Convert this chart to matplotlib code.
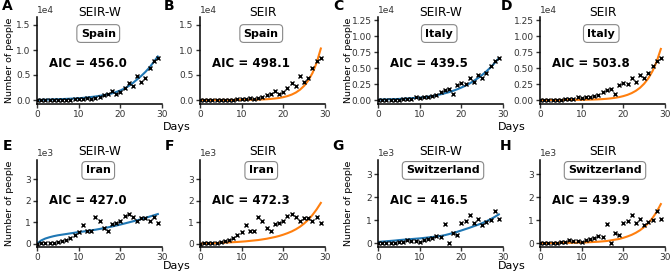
import numpy as np
import matplotlib
matplotlib.use('Agg')
import matplotlib.pyplot as plt

# daily data and model fits, day 0..29
days = list(range(30))

spain_obs = [0, 5, 10, 15, 20, 30, 40, 60, 90, 120, 150, 250, 500, 300, 400,
             700, 1000, 1300, 1900, 1200, 1700, 2400, 3500, 2800, 4900, 3600,
             4500, 6500, 7900, 8500]
spain_seirw = [0, 30, 60, 90, 120, 150, 180, 220, 260, 300, 350, 420, 500, 600,
               700, 830, 970, 1130, 1320, 1600, 1900, 2300, 2800, 3400, 4100,
               4800, 5600, 6500, 7600, 8700]
spain_seir = [1, 1, 2, 2, 3, 5, 6, 9, 12, 17, 23, 31, 43, 60, 82, 114, 157, 215,
              300, 410, 570, 785, 1080, 1490, 2060, 2840, 3920, 5400, 7460, 10300]

italy_obs = [20, 10, 30, 40, 50, 60, 150, 180, 200, 500, 300, 400, 500, 700,
             800, 1200, 1500, 1700, 900, 2300, 2600, 2450, 3400, 2800, 3900,
             3400, 4200, 5350, 6050, 6550]
italy_seirw = [50, 80, 100, 120, 140, 170, 200, 240, 280, 330, 380, 450, 530,
               630, 750, 890, 1050, 1230, 1440, 1680, 1950, 2250, 2600, 3000,
               3440, 3930, 4480, 5100, 5800, 6550]
italy_seir = [2, 3, 4, 5, 6, 8, 11, 15, 20, 27, 35, 47, 62, 83, 111, 147, 196,
              260, 346, 460, 615, 815, 1085, 1445, 1920, 2560, 3400, 4520, 6020,
              8000]

iran_obs = [0, 10, 20, 30, 50, 80, 140, 190, 270, 420, 550, 860, 610, 610, 1250,
            1080, 750, 600, 900, 980, 1060, 1300, 1380, 1220, 1060, 1190, 1200,
            1060, 1250, 980]
iran_seirw = [0, 150, 240, 300, 350, 390, 420, 450, 480, 510, 540, 565, 590,
              620, 650, 685, 720, 760, 800, 845, 890, 940, 990, 1040, 1090, 1145,
              1200, 1260, 1320, 1380]
iran_seir = [0, 10, 15, 20, 30, 40, 50, 60, 70, 80, 95, 110, 130, 150, 170, 200,
             230, 270, 310, 360, 420, 490, 570, 670, 790, 940, 1120, 1340, 1600,
             1900]

swiss_obs = [0, 0, 0, 10, 20, 30, 50, 130, 90, 90, 30, 150, 190, 230, 290, 260,
             840, 0, 440, 360, 880, 950, 1230, 890, 1050, 780, 920, 1000, 1400,
             1050]
swiss_seirw = [50, 65, 80, 95, 110, 130, 145, 160, 175, 190, 205, 225, 245, 265,
               285, 310, 345, 390, 440, 490, 550, 610, 670, 735, 800, 870, 950,
               1040, 1140, 1250]
swiss_seir = [2, 3, 4, 5, 7, 9, 11, 13, 16, 20, 25, 30, 40, 50, 60, 75, 90, 120,
              150, 180, 230, 290, 360, 450, 560, 700, 870, 1090, 1360, 1700]

countries = ['Spain', 'Spain', 'Italy', 'Italy',
             'Iran', 'Iran', 'Switzerland', 'Switzerland']
models = ['SEIR-W', 'SEIR', 'SEIR-W', 'SEIR', 'SEIR-W', 'SEIR', 'SEIR-W', 'SEIR']
aic = [456.0, 498.1, 439.5, 503.8, 427.0, 472.3, 416.5, 439.9]
letters = ['A', 'B', 'C', 'D', 'E', 'F', 'G', 'H']
observed = [spain_obs, spain_obs, italy_obs, italy_obs,
            iran_obs, iran_obs, swiss_obs, swiss_obs]
fitted = [spain_seirw, spain_seir, italy_seirw, italy_seir,
          iran_seirw, iran_seir, swiss_seirw, swiss_seir]

yticks_top = [0, 5000, 10000, 15000]
yticks_italy = [0, 2500, 5000, 7500, 10000, 12500]
yticks_bottom = [0, 1000, 2000, 3000]

W, H = 670, 274
fig = plt.figure(figsize=(6.7, 2.74), dpi=100)

# axes boxes in pixels: left, top, width, height
lefts = [37, 200, 378, 540]
tops = [17, 160]
aw, ah = 125, 87


def px(l, t, w, h):
    return [l / W, 1 - (t + h) / H, w / W, h / H]


for i in range(8):
    row, col = divmod(i, 4)
    ax = fig.add_axes(px(lefts[col], tops[row], aw, ah))
    color = '#1f77b4' if models[i] == 'SEIR-W' else '#ff7f0e'
    ax.plot(days, fitted[i], color=color, lw=1.5, zorder=2)
    ax.plot(days, observed[i], 'x', color='black', ms=3.5, mew=1.0, zorder=3)

    ax.set_xlim(0, 30)
    ax.set_xticks([0, 10, 20, 30])
    if row == 0 and col < 2:
        ax.set_ylim(-800, 16600)
        ax.set_yticks(yticks_top)
    elif row == 0:
        ax.set_ylim(-620, 13000)
        ax.set_yticks(yticks_italy)
    elif col < 2:
        ax.set_ylim(-155, 3900)
        ax.set_yticks(yticks_bottom)
    else:
        ax.set_ylim(-170, 3620)
        ax.set_yticks(yticks_bottom)
    ax.ticklabel_format(style='sci', axis='y', scilimits=(0, 0))
    ax.yaxis.get_offset_text().set_fontsize(6.5)
    ax.tick_params(labelsize=6.5, length=3, width=1, colors='#333333',
                   labelcolor='#333333', pad=1.5)

    for s in ['top', 'right']:
        ax.spines[s].set_visible(False)
    for s in ['left', 'bottom']:
        ax.spines[s].set_linewidth(1.1)

    ty = 1.05 if row == 0 else 1.10
    ax.text(0.5, ty, models[i], transform=ax.transAxes, ha='center',
            va='center', fontsize=8.7)
    bx = 0.49 if countries[i] != 'Switzerland' else 0.52
    by = 0.81 if row == 0 else 0.88
    ax.text(bx, by, countries[i], transform=ax.transAxes, ha='center',
            va='center', fontsize=8, fontweight='bold',
            bbox=dict(boxstyle='round,pad=0.35', fc='white', ec='#888888', lw=0.8))
    ay = 0.47 if row == 0 else 0.53
    ax.text(0.41, ay, 'AIC = %.1f' % aic[i], transform=ax.transAxes,
            ha='center', va='center', fontsize=8.5, fontweight='bold')

    if col % 2 == 0:
        ax.set_ylabel('Number of people', fontsize=6.8)
        ax.yaxis.set_label_coords(-0.18 if col == 0 else -0.2, 0.5)

    lx = [7, 169, 338, 506][col]
    ly = [6, 146][row]
    fig.text(lx / W, 1 - ly / H, letters[i], ha='center', va='center',
             fontsize=10, fontweight='bold')

for cx in [177, 512]:
    for cy in [127, 266]:
        fig.text(cx / W, 1 - cy / H, 'Days', ha='center', va='center',
                 fontsize=8)

fig.savefig('out.png', dpi=100)
